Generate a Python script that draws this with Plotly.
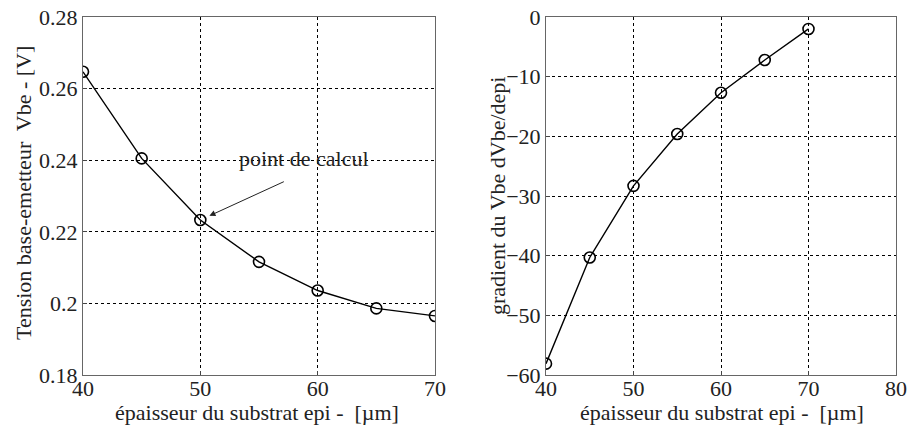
import plotly.graph_objects as go

epaisseur = [40, 45, 50, 55, 60, 65, 70]
vbe = [0.2647, 0.2405, 0.2233, 0.2116, 0.2036, 0.1986, 0.1965]
gradient = [-58.1, -40.3, -28.3, -19.6, -12.7, -7.2, -2.0]

FONT = "Liberation Serif, DejaVu Serif, serif"
FS = 22
W, H = 907, 425


def px(x):
    return x / W


def py(y):
    return 1 - y / H


fig = go.Figure()
for xs, ys, xa, ya in [(epaisseur, vbe, "x", "y"), (epaisseur, gradient, "x2", "y2")]:
    fig.add_trace(go.Scatter(x=xs, y=ys, mode="lines+markers",
                             line=dict(color="black", width=1.4),
                             marker=dict(symbol="circle-open", size=11, color="black", line=dict(width=1.6)),
                             xaxis=xa, yaxis=ya, showlegend=False))

ax_common = dict(showline=True, linecolor="#666", linewidth=1, mirror=True,
                 showgrid=True, gridcolor="black", griddash="dot", gridwidth=1,
                 ticks="inside", ticklen=4, tickcolor="#444", automargin=False,
                 ticklabeloverflow="allow",
                 tickfont=dict(family=FONT, size=FS, color="#222"),
                 zeroline=False)
fig.update_layout(
    width=W, height=H, margin=dict(l=0, r=0, t=0, b=0, autoexpand=False),
    paper_bgcolor="white", plot_bgcolor="white",
    font=dict(family=FONT, color="#222"),
    xaxis=dict(domain=[px(83), px(435)], range=[40, 70], tickvals=[40, 50, 60, 70],
               anchor="y", ticklabelstandoff=-6, **ax_common),
    yaxis=dict(domain=[py(375), py(17)], range=[0.18, 0.28],
               tickvals=[0.18, 0.2, 0.22, 0.24, 0.26, 0.28], ticktext=["0.18", "0.2", "0.22", "0.24", "0.26", "0.28"],
               anchor="x", **ax_common),
    xaxis2=dict(domain=[px(546), px(896)], range=[40, 80], tickvals=[40, 50, 60, 70, 80],
                anchor="y2", ticklabelstandoff=-6, **ax_common),
    yaxis2=dict(domain=[py(375), py(17)], range=[-60, 0], tickvals=[-60, -50, -40, -30, -20, -10, 0],
                anchor="x2", **ax_common),
)
tf = dict(family=FONT, size=FS, color="#222")
for x, y, t, ang in [(257, 412, "épaisseur du substrat epi -  [µm]", 0),
                     (722, 412, "épaisseur du substrat epi -  [µm]", 0),
                     (23, 193, "Tension base-emetteur  Vbe - [V]", -90),
                     (497, 196, "gradient du Vbe dVbe/depi", -90)]:
    fig.add_annotation(x=px(x), y=py(y), xref="paper", yref="paper", text=t, textangle=ang,
                       showarrow=False, font=tf, xanchor="center", yanchor="middle")

fig.add_annotation(x=50, y=vbe[2], xref="x", yref="y", ax=85, ay=-39,
                   text="", showarrow=True, arrowhead=2, arrowsize=1.2, arrowwidth=1, arrowcolor="#222",
                   standoff=10)
fig.add_annotation(x=58.8, y=0.2406, xref="x", yref="y", text="point de calcul", showarrow=False,
                   font=tf)
fig.write_html("out.html", config={"displayModeBar": False},
               post_script="document.body.style.margin='0';document.body.style.overflow='hidden';")
